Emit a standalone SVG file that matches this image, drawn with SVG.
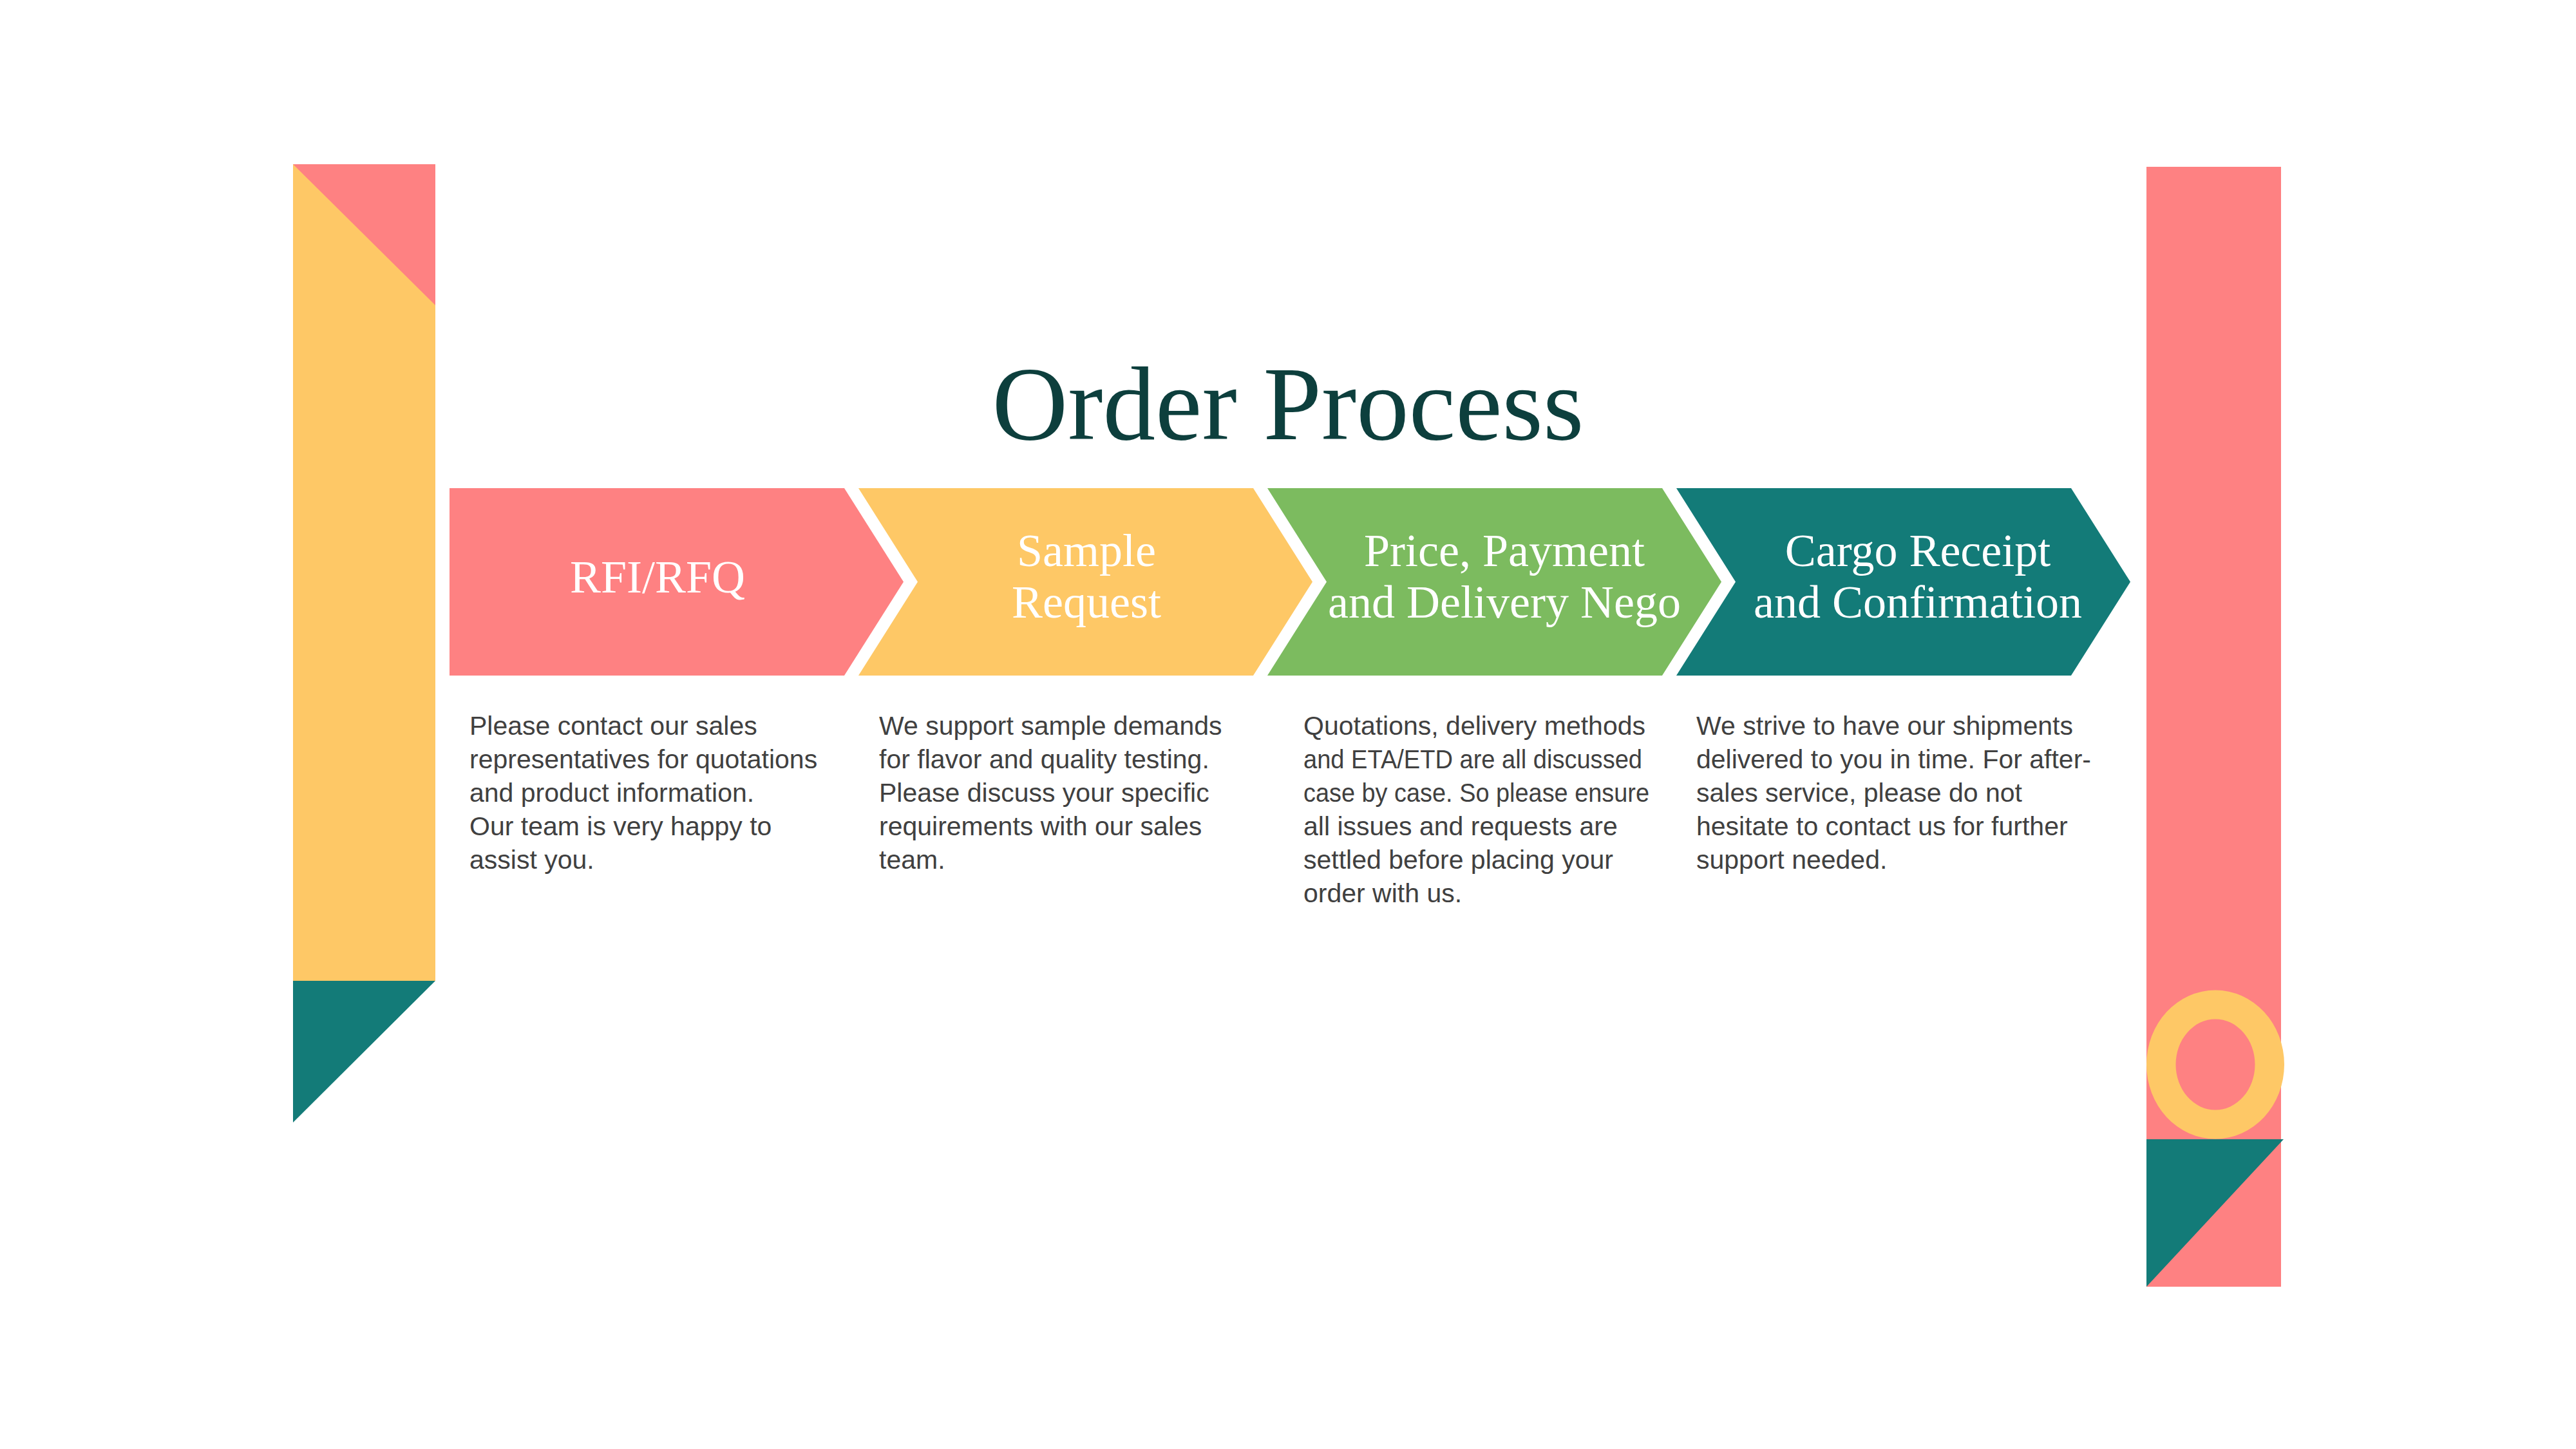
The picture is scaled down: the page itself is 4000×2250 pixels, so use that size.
<svg xmlns="http://www.w3.org/2000/svg" width="4000" height="2250" viewBox="0 0 4000 2250">
<style>
.pink{fill:#FE8182}
.yellow{fill:#FEC866}
.green{fill:#7CBB5F}
.teal{fill:#137B78}
.title{font-family:"Liberation Serif",serif;font-size:163px;fill:#0D3F3D;text-anchor:middle}
.lbl{font-family:"Liberation Serif",serif;font-size:72px;fill:#FFFFFF;text-anchor:middle}
.body{font-family:"Liberation Sans",Arial,sans-serif;font-size:41px;fill:#404040}
</style>
<rect width="4000" height="2250" fill="#FFFFFF"/>
<g id="left-bar">
<rect class="yellow" x="455" y="255" width="221" height="1268"/>
<polygon class="pink" points="455,255 676,255 676,474"/>
<polygon class="teal" points="455,1523 676,1523 455,1743"/>
</g>
<g id="right-bar">
<rect class="pink" x="3333" y="259" width="209" height="1739"/>
<path class="yellow" fill-rule="evenodd" d="M3333,1653 a107,115.5 0 1,0 214,0 a107,115.5 0 1,0 -214,0 Z M3378.5,1653 a61.5,70.5 0 1,0 123,0 a61.5,70.5 0 1,0 -123,0 Z"/>
<polygon class="teal" points="3333,1769 3546,1769 3333,1998"/>
</g>
<g id="title">
<text class="title" x="2000" y="682">Order Process</text>
</g>
<g id="step1">
<polygon class="pink" points="698,758 1311,758 1403,903.5 1311,1049 698,1049"/>
<text class="lbl" x="1021" y="920">RFI/RFQ</text>
</g>
<g id="step2">
<polygon class="yellow" points="1333,758 1946,758 2038,903.5 1946,1049 1333,1049 1425,903.5"/>
<text class="lbl" x="1687" y="879">Sample</text>
<text class="lbl" x="1687" y="959">Request</text>
</g>
<g id="step3">
<polygon class="green" points="1968,758 2581,758 2673,903.5 2581,1049 1968,1049 2060,903.5"/>
<text class="lbl" x="2336" y="879">Price, Payment</text>
<text class="lbl" x="2336" y="959">and Delivery Nego</text>
</g>
<g id="step4">
<polygon class="teal" points="2603,758 3216,758 3308,903.5 3216,1049 2603,1049 2695,903.5"/>
<text class="lbl" x="2978" y="879">Cargo Receipt</text>
<text class="lbl" x="2978" y="959">and Confirmation</text>
</g>
<g id="desc1">
<text class="body" x="729" y="1141">Please contact our sales</text>
<text class="body" x="729" y="1193">representatives for quotations</text>
<text class="body" x="729" y="1245">and product information.</text>
<text class="body" x="729" y="1297">Our team is very happy to</text>
<text class="body" x="729" y="1349">assist you.</text>
</g>
<g id="desc2">
<text class="body" x="1365" y="1141">We support sample demands</text>
<text class="body" x="1365" y="1193">for flavor and quality testing.</text>
<text class="body" x="1365" y="1245">Please discuss your specific</text>
<text class="body" x="1365" y="1297">requirements with our sales</text>
<text class="body" x="1365" y="1349">team.</text>
</g>
<g id="desc3">
<text class="body" x="2024" y="1141">Quotations, delivery methods</text>
<text class="body" x="2024" y="1193" textLength="526" lengthAdjust="spacingAndGlyphs">and ETA/ETD are all discussed</text>
<text class="body" x="2024" y="1245" textLength="537" lengthAdjust="spacingAndGlyphs">case by case. So please ensure</text>
<text class="body" x="2024" y="1297">all issues and requests are</text>
<text class="body" x="2024" y="1349">settled before placing your</text>
<text class="body" x="2024" y="1401">order with us.</text>
</g>
<g id="desc4">
<text class="body" x="2634" y="1141">We strive to have our shipments</text>
<text class="body" x="2634" y="1193">delivered to you in time. For after-</text>
<text class="body" x="2634" y="1245">sales service, please do not</text>
<text class="body" x="2634" y="1297">hesitate to contact us for further</text>
<text class="body" x="2634" y="1349">support needed.</text>
</g>
<g id="connectors"></g>
</svg>
